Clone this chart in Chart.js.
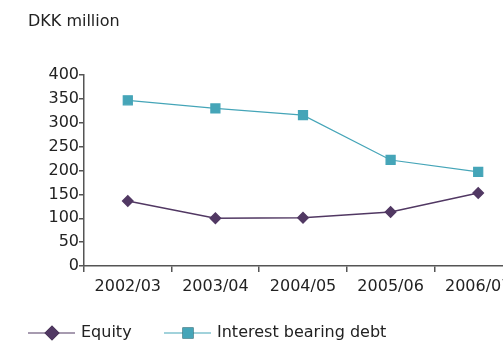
<!DOCTYPE html>
<html>
<head>
<meta charset="utf-8">
<script src="https://cdn.jsdelivr.net/npm/chart.js@4"></script>
<style>
  html, body { margin: 0; padding: 0; overflow: hidden; background: #fff; }
  #wrap { width: 530px; height: 342px; }
</style>
</head>
<body>
<div id="wrap"><canvas id="lineChart" width="530" height="342"></canvas></div>
<script>
const years = ["2002/03", "2003/04", "2004/05", "2005/06", "2006/07"];
const equity = [136, 100, 101, 113, 153];
const debt = [347, 330, 316, 222, 197];
const yTicks = [0, 50, 100, 150, 200, 250, 300, 350, 400];

const FONT = "'DejaVu Sans', Verdana, sans-serif";
const AXIS = "#555555";
const PURPLE = "#513863";
const TEAL = "#45a5b8";

// title and legend drawn by hand to match the original placement
const extras = {
    id: "extras",
    afterDraw(chart) {
        const ctx = chart.ctx;
        ctx.save();
        ctx.fillStyle = "#222";
        ctx.font = "16px " + FONT;
        ctx.textBaseline = "middle";
        ctx.fillText("DKK million", 28, 22);

        const items = [
            { ds: chart.data.datasets[0], x: 28, r: 7.5 },
            { ds: chart.data.datasets[1], x: 164, r: 7.8 },
        ];
        const y = 333;
        items.forEach(({ ds, x, r }) => {
            ctx.strokeStyle = ds.borderColor;
            ctx.lineWidth = 1.2;
            ctx.beginPath();
            ctx.moveTo(x, y);
            ctx.lineTo(x + 47, y);
            ctx.stroke();
            Chart.helpers.drawPoint(ctx, {
                pointStyle: ds.pointStyle,
                radius: r,
                rotation: 0,
                borderWidth: 0,
            }, x + 24, y);
            ctx.fillStyle = ds.pointBackgroundColor;
            ctx.fill();
            ctx.fillStyle = "#222";
            ctx.fillText(ds.label, x + 53, y);
        });
        ctx.restore();
    },
};

new Chart(document.getElementById("lineChart"), {
    type: "line",
    data: {
        labels: years,
        datasets: [
            {
                label: "Equity",
                data: equity,
                borderColor: PURPLE,
                backgroundColor: PURPLE,
                pointBackgroundColor: PURPLE,
                pointBorderColor: PURPLE,
                pointStyle: "rectRot",
                pointRadius: 5.2,
                borderWidth: 1.4,
                tension: 0,
            },
            {
                label: "Interest bearing debt",
                data: debt,
                borderColor: TEAL,
                backgroundColor: TEAL,
                pointBackgroundColor: TEAL,
                pointBorderColor: TEAL,
                pointStyle: "rect",
                pointRadius: 6.4,
                borderWidth: 1.2,
                tension: 0,
            },
        ],
    },
    options: {
        responsive: false,
        animation: false,
        layout: { padding: { left: 0, top: 75, right: 8, bottom: 0 } },
        plugins: {
            legend: { display: false },
            tooltip: { enabled: false },
        },
        scales: {
            x: {
                offset: true,
                afterFit: (s) => { s.height = 76; },
                border: { color: AXIS, width: 1.5 },
                grid: {
                    drawOnChartArea: false,
                    offset: true,
                    color: AXIS,
                    lineWidth: 1.5,
                    tickLength: 6,
                },
                ticks: {
                    color: "#222",
                    font: { family: FONT, size: 16 },
                    padding: 5,
                    maxRotation: 0,
                    autoSkip: false,
                },
            },
            y: {
                min: 0,
                max: 400,
                afterFit: (s) => { s.width = 84; },
                afterBuildTicks: (s) => { s.ticks = yTicks.map((v) => ({ value: v })); },
                border: { color: AXIS, width: 1.5 },
                grid: {
                    drawOnChartArea: false,
                    color: AXIS,
                    lineWidth: 1.5,
                    tickLength: 5,
                },
                ticks: {
                    color: "#222",
                    font: { family: FONT, size: 16 },
                    padding: 0,
                },
            },
        },
    },
    plugins: [extras],
});
</script>
</body>
</html>
